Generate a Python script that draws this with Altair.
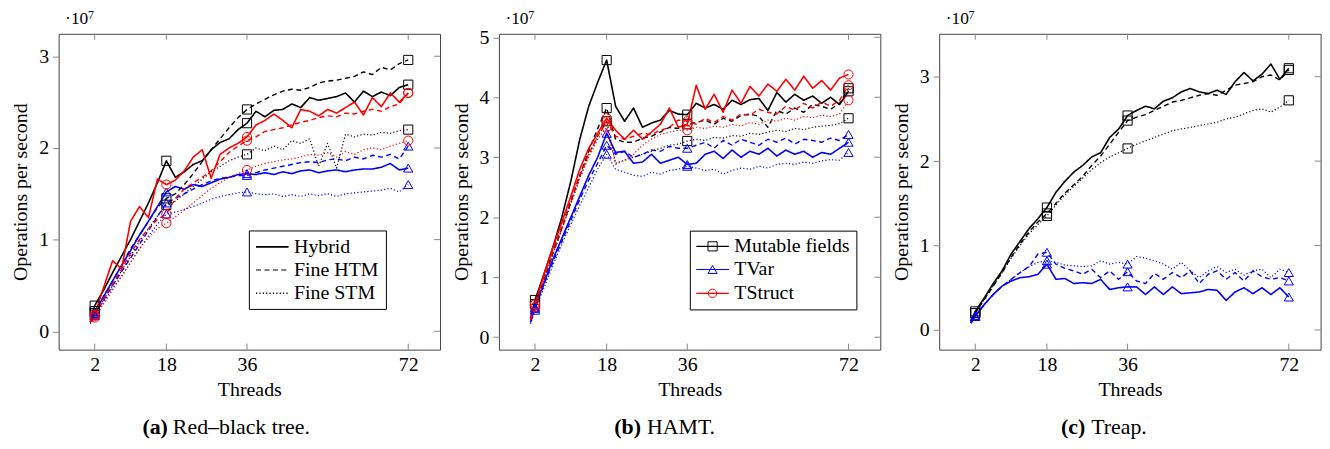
import altair as alt
import pandas as pd

# ---------------- data (values in units of 10^7 operations per second) -------------
THREADS = [1, 2, 4, 6, 8, 10, 12, 14, 16, 18, 20, 22, 24, 26, 28, 30, 32, 34, 36,
           38, 40, 42, 44, 46, 48, 50, 52, 54, 56, 58, 60, 62, 64, 66, 68, 70, 72]
MARK_THREADS = [2, 18, 36, 72]
X_TICKS = [2, 18, 36, 72]
STRUCTURES = ["Mutable fields", "TVar", "TStruct"]
VARIANTS = ["Hybrid", "Fine HTM", "Fine STM"]

# (a) Red-black tree
RB_MF_HYBRID = [0.12, 0.28, 0.45, 0.64, 0.82, 1.0, 1.2, 1.4, 1.62, 1.86, 1.68, 1.74, 1.82, 1.86, 1.98, 2.06, 2.1, 2.2, 2.27,
                2.4, 2.34, 2.41, 2.42, 2.48, 2.44, 2.55, 2.52, 2.54, 2.56, 2.6, 2.5, 2.62, 2.56, 2.61, 2.57, 2.66, 2.69]
RB_MF_HTM = [0.1, 0.22, 0.38, 0.55, 0.72, 0.9, 1.05, 1.2, 1.35, 1.45, 1.5, 1.6, 1.72, 1.85, 1.98, 2.1, 2.22, 2.33, 2.42,
             2.48, 2.53, 2.58, 2.62, 2.64, 2.63, 2.66, 2.71, 2.73, 2.74, 2.76, 2.78, 2.83, 2.8, 2.88, 2.85, 2.92, 2.96]
RB_MF_STM = [0.1, 0.2, 0.35, 0.5, 0.66, 0.82, 0.98, 1.12, 1.26, 1.38, 1.42, 1.5, 1.58, 1.66, 1.74, 1.8, 1.86, 1.9, 1.93,
             2.0, 1.97, 2.02, 1.98, 2.08, 2.05, 2.1, 1.8, 2.05, 1.78, 2.15, 2.12, 2.15, 2.14, 2.17, 2.16, 2.19, 2.2]
RB_TV_HYBRID = [0.1, 0.2, 0.38, 0.55, 0.72, 0.88, 1.05, 1.2, 1.36, 1.52, 1.58, 1.55, 1.6, 1.58, 1.62, 1.66, 1.68, 1.71, 1.72,
                1.71, 1.73, 1.71, 1.74, 1.72, 1.75, 1.76, 1.73, 1.75, 1.76, 1.74, 1.76, 1.77, 1.77, 1.79, 1.83, 1.76, 1.78]
RB_TV_HTM = [0.1, 0.18, 0.34, 0.5, 0.65, 0.8, 0.95, 1.1, 1.25, 1.4, 1.45, 1.5, 1.55, 1.6, 1.64, 1.67, 1.68, 1.7, 1.7,
             1.73, 1.76, 1.78, 1.8, 1.82, 1.84, 1.85, 1.84, 1.87, 1.88, 1.86, 1.9, 1.88, 1.92, 1.9, 1.93, 1.88, 2.02]
RB_TV_STM = [0.08, 0.17, 0.32, 0.47, 0.6, 0.75, 0.9, 1.04, 1.17, 1.28, 1.3, 1.33, 1.36, 1.4, 1.44, 1.47, 1.49, 1.51, 1.52,
             1.5, 1.49, 1.5, 1.47, 1.49, 1.47, 1.5, 1.48, 1.5, 1.47, 1.5, 1.51, 1.52, 1.53, 1.54, 1.56, 1.52, 1.6]
RB_TS_HYBRID = [0.1, 0.18, 0.48, 0.77, 0.68, 1.2, 1.36, 1.24, 1.66, 1.6, 1.65, 1.75, 1.9, 1.98, 1.67, 1.93, 2.0, 2.05, 2.12,
                2.25, 2.3, 2.37, 2.3, 2.22, 2.42, 2.4, 2.35, 2.42, 2.38, 2.44, 2.5, 2.36, 2.55, 2.45, 2.6, 2.5, 2.6]
RB_TS_HTM = [0.1, 0.17, 0.35, 0.52, 0.68, 0.85, 1.0, 1.12, 1.22, 1.28, 1.45, 1.55, 1.62, 1.68, 1.75, 1.85, 1.95, 2.02, 2.08,
             2.12, 2.18, 2.2, 2.22, 2.25, 2.28, 2.3, 2.33, 2.35, 2.34, 2.38, 2.37, 2.4, 2.42, 2.4, 2.45, 2.48, 2.6]
RB_TS_STM = [0.08, 0.15, 0.3, 0.45, 0.6, 0.75, 0.9, 1.02, 1.12, 1.18, 1.25, 1.32, 1.4, 1.48, 1.56, 1.62, 1.68, 1.72, 1.76,
             1.8, 1.83, 1.85, 1.87, 1.88, 1.9, 1.93, 1.92, 1.95, 1.9, 1.96, 1.93, 1.98, 2.0, 1.98, 2.02, 2.05, 2.08]

# (b) HAMT
HM_MF_HYBRID = [0.3, 0.62, 1.05, 1.5, 2.0, 2.6, 3.3, 3.85, 4.25, 4.62, 3.85, 3.6, 3.82, 3.5, 3.57, 3.62, 3.78, 3.72, 3.71,
                3.9, 3.82, 3.88, 3.8, 3.95, 3.88, 3.96, 3.98, 3.78, 4.08, 3.92, 4.05, 3.95, 4.02, 3.9, 4.0, 3.88, 4.1]
HM_MF_HTM = [0.28, 0.55, 0.95, 1.4, 1.82, 2.25, 2.7, 3.1, 3.48, 3.82, 3.3, 3.25, 3.25, 3.32, 3.35, 3.42, 3.5, 3.48, 3.55,
             3.58, 3.62, 3.55, 3.65, 3.6, 3.7, 3.72, 3.68, 3.5, 3.78, 3.72, 3.82, 3.75, 3.88, 3.85, 3.8, 3.9, 4.15]
HM_MF_STM = [0.28, 0.55, 0.95, 1.38, 1.8, 2.22, 2.65, 3.05, 3.35, 3.6, 2.9, 2.95, 3.0, 3.05, 3.1, 3.15, 3.2, 3.22, 3.27,
             3.3, 3.28, 3.33, 3.32, 3.36, 3.35, 3.4, 3.38, 3.42, 3.45, 3.43, 3.48, 3.46, 3.5, 3.52, 3.53, 3.56, 3.65]
HM_TV_HYBRID = [0.25, 0.5, 0.9, 1.3, 1.65, 2.0, 2.35, 2.7, 3.0, 3.4, 3.08, 3.1, 2.9, 2.92, 3.05, 2.9, 2.95, 3.0, 2.88,
                2.9, 3.05, 3.1, 2.98, 3.12, 3.0, 3.1, 3.05, 3.15, 3.02, 3.12, 3.05, 3.1, 3.0, 3.08, 3.05, 3.15, 3.25]
HM_TV_HTM = [0.25, 0.48, 0.88, 1.25, 1.6, 1.95, 2.3, 2.62, 2.9, 3.2, 3.05, 3.1, 3.0, 3.05, 3.12, 3.1, 3.18, 3.15, 3.15,
             3.2, 3.25, 3.15, 3.28, 3.2, 3.3, 3.25, 3.2, 3.3, 3.25, 3.32, 3.22, 3.3, 3.28, 3.25, 3.32, 3.28, 3.38]
HM_TV_STM = [0.22, 0.45, 0.82, 1.2, 1.55, 1.88, 2.2, 2.5, 2.8, 3.05, 2.8, 2.75, 2.7, 2.68, 2.75, 2.72, 2.78, 2.8, 2.85,
             2.82, 2.78, 2.8, 2.72, 2.78, 2.82, 2.8, 2.85, 2.82, 2.88, 2.9, 2.88, 2.92, 2.9, 2.94, 2.96, 2.95, 3.08]
HM_TS_HYBRID = [0.3, 0.55, 1.05, 1.5, 1.92, 2.35, 2.8, 3.15, 3.4, 3.65, 3.45, 3.3, 3.45, 3.3, 3.42, 3.55, 3.82, 3.5, 3.55,
                4.2, 3.8, 4.05, 3.75, 4.12, 3.9, 4.18, 4.02, 4.22, 4.1, 4.3, 4.12, 4.35, 4.15, 4.28, 4.12, 4.32, 4.38]
HM_TS_HTM = [0.3, 0.55, 1.0, 1.45, 1.85, 2.3, 2.7, 3.05, 3.35, 3.6, 3.35, 3.3, 3.35, 3.4, 3.38, 3.45, 3.5, 3.62, 3.6,
             3.55, 3.65, 3.58, 3.68, 3.62, 3.72, 3.7, 3.8, 3.75, 3.72, 3.85, 3.78, 3.9, 3.82, 3.92, 3.85, 3.95, 4.2]
HM_TS_STM = [0.28, 0.5, 0.95, 1.4, 1.8, 2.25, 2.65, 3.0, 3.3, 3.5, 2.88, 2.95, 3.05, 3.2, 3.3, 3.38, 3.42, 3.45, 3.45,
             3.5, 3.48, 3.52, 3.5, 3.55, 3.52, 3.58, 3.55, 3.62, 3.6, 3.65, 3.62, 3.68, 3.66, 3.7, 3.68, 3.72, 3.95]

# (c) Treap
TR_MF_HYBRID = [0.1, 0.22, 0.38, 0.55, 0.7, 0.9, 1.05, 1.2, 1.32, 1.45, 1.63, 1.76, 1.87, 1.95, 2.05, 2.1, 2.28, 2.38, 2.54,
                2.6, 2.65, 2.62, 2.71, 2.75, 2.82, 2.86, 2.82, 2.8, 2.84, 2.79, 2.94, 3.05, 2.95, 3.03, 3.15, 2.97, 3.1]
TR_MF_HTM = [0.1, 0.2, 0.36, 0.52, 0.68, 0.86, 1.02, 1.16, 1.28, 1.38, 1.5, 1.62, 1.72, 1.82, 1.95, 2.06, 2.2, 2.34, 2.48,
             2.52, 2.55, 2.6, 2.65, 2.7, 2.72, 2.75, 2.78, 2.8, 2.78, 2.84, 2.9, 2.92, 2.94, 3.0, 3.02, 2.96, 3.08]
TR_MF_STM = [0.1, 0.2, 0.36, 0.52, 0.68, 0.85, 1.0, 1.14, 1.25, 1.35, 1.48, 1.6, 1.7, 1.8, 1.9, 1.98, 2.05, 2.1, 2.15,
             2.2, 2.24, 2.28, 2.32, 2.36, 2.38, 2.4, 2.42, 2.44, 2.46, 2.5, 2.52, 2.56, 2.6, 2.62, 2.58, 2.64, 2.72]
TR_TV_HYBRID = [0.08, 0.17, 0.3, 0.42, 0.52, 0.58, 0.62, 0.63, 0.66, 0.78, 0.6, 0.61, 0.55, 0.56, 0.55, 0.6, 0.48, 0.5, 0.51,
                0.51, 0.42, 0.51, 0.42, 0.51, 0.43, 0.44, 0.45, 0.48, 0.47, 0.35, 0.45, 0.5, 0.43, 0.5, 0.42, 0.5, 0.39]
TR_TV_HTM = [0.08, 0.16, 0.3, 0.42, 0.52, 0.6, 0.68, 0.75, 0.9, 0.92, 0.78, 0.73, 0.7, 0.66, 0.72, 0.62, 0.7, 0.6, 0.69,
             0.58, 0.55, 0.67, 0.6, 0.68, 0.62, 0.7, 0.55, 0.66, 0.7, 0.6, 0.68, 0.58, 0.7, 0.63, 0.6, 0.62, 0.58]
TR_TV_STM = [0.08, 0.16, 0.3, 0.42, 0.52, 0.6, 0.68, 0.75, 0.8, 0.82, 0.8, 0.77, 0.76, 0.75, 0.76, 0.82, 0.78, 0.8, 0.78,
             0.87, 0.85, 0.82, 0.78, 0.72, 0.8, 0.7, 0.62, 0.7, 0.75, 0.68, 0.72, 0.65, 0.7, 0.72, 0.62, 0.72, 0.68]

# ---------------- styling -------------
COLORS = ["#000000", "#0000ff", "#ff0000"]
SHAPES = ["square", "triangle-up", "circle"]
MARK_SIZES = [85, 85, 72]
DASHES = [[1, 0], [5, 3.5], [1.2, 2.2]]
WIDTHS = [1.6, 1.2, 1.5]
FONT = "Liberation Serif"
W, H = 384, 318
XDOM = [-6.05, 79.1]
TICK_COLOR = "#888888"


def long_frame(series):
    rows = []
    for (struct, variant), vals in series.items():
        for t, v in zip(THREADS, vals):
            rows.append({"threads": t, "ops": v, "structure": struct,
                         "variant": variant, "series": struct + " / " + variant})
    return pd.DataFrame(rows)


def one(label):
    return pd.DataFrame({"label": [label]})


def text_layer(label, x, y, size=20, weight="normal", align="left", baseline="alphabetic"):
    return alt.Chart(one(label)).mark_text(
        font=FONT, fontSize=size, fontWeight=weight, align=align, baseline=baseline, color="#000"
    ).encode(x=alt.value(x), y=alt.value(y), text="label:N")


def make_panel(series, ydom, yticks, cap_label, cap_text, cap_right, cap_left, legend):
    df = long_frame(series)
    color = alt.Color("structure:N", scale=alt.Scale(domain=STRUCTURES, range=COLORS), legend=None)
    xaxis = alt.Axis(values=X_TICKS, ticks=False, domain=False, grid=False, format="d",
                     labelFont=FONT, labelFontSize=20, labelColor="#000", labelPadding=5,
                     titleFont=FONT, titleFontSize=20, titleFontWeight="normal", titleColor="#000",
                     titleX=W / 2, titleY=46, titleBaseline="alphabetic")
    yaxis = alt.Axis(values=yticks, ticks=True, tickSize=6, tickColor=TICK_COLOR, tickWidth=1,
                     domain=False, grid=False, format="d",
                     labelFont=FONT, labelFontSize=20, labelColor="#000", labelPadding=4,
                     titleFont=FONT, titleFontSize=20, titleFontWeight="normal", titleColor="#000",
                     titleX=-38, titleY=H / 2, titleAngle=270, titleBaseline="middle", titleAlign="center")
    x = alt.X("threads:Q", title="Threads",
              scale=alt.Scale(domain=XDOM, nice=False, zero=False), axis=xaxis)
    y = alt.Y("ops:Q", title="Operations per second",
              scale=alt.Scale(domain=ydom, nice=False, zero=False), axis=yaxis)
    x2 = alt.X("threads:Q", title="Threads")
    y2 = alt.Y("ops:Q", title="Operations per second")

    lines = alt.Chart(df).mark_line(strokeJoin="round").encode(
        x=x, y=y, color=color,
        strokeDash=alt.StrokeDash("variant:N", scale=alt.Scale(domain=VARIANTS, range=DASHES), legend=None),
        strokeWidth=alt.StrokeWidth("variant:N", scale=alt.Scale(domain=VARIANTS, range=WIDTHS), legend=None),
        detail="series:N",
    )
    pts = alt.Chart(df).transform_filter(
        alt.FieldOneOfPredicate(field="threads", oneOf=MARK_THREADS)
    ).mark_point(filled=False, strokeWidth=1, opacity=1).encode(
        x=x2, y=y2, color=color,
        shape=alt.Shape("structure:N", scale=alt.Scale(domain=STRUCTURES, range=SHAPES), legend=None),
        size=alt.Size("structure:N", scale=alt.Scale(domain=STRUCTURES, range=MARK_SIZES), legend=None),
    )
    xt = pd.DataFrame({"threads": X_TICKS})
    yt = pd.DataFrame({"ops": yticks})
    top_ticks = alt.Chart(xt).mark_rule(color=TICK_COLOR, strokeWidth=1).encode(
        x=x2, y=alt.value(0), y2=alt.value(6))
    bot_ticks = alt.Chart(xt).mark_rule(color=TICK_COLOR, strokeWidth=1).encode(
        x=x2, y=alt.value(H - 6), y2=alt.value(H))
    right_ticks = alt.Chart(yt).mark_rule(color=TICK_COLOR, strokeWidth=1).encode(
        y=y2, x=alt.value(W - 6), x2=alt.value(W))

    layers = [lines, pts, top_ticks, bot_ticks, right_ticks]

    # legend (drawn as a framed box inside the plot)
    entries = []
    if legend == "variants":
        box = (192, 330, 198.5, 277.5)
        rows_y = [214.5, 237.8, 261.2]
        entries = [(v, "#000000", DASHES[i], WIDTHS[i], None, None) for i, v in enumerate(VARIANTS)]
    elif legend == "structures":
        box = (192.7, 360.4, 198.7, 278)
        rows_y = [214, 237.3, 261.3]
        entries = [(s, COLORS[i], [1, 0], 1.2, SHAPES[i], MARK_SIZES[i]) for i, s in enumerate(STRUCTURES)]
    if entries:
        layers.append(alt.Chart(one("box")).mark_rect(fill="white", stroke="#000", strokeWidth=1).encode(
            x=alt.value(box[0]), x2=alt.value(box[1]), y=alt.value(box[2]), y2=alt.value(box[3])))
        for (label, col, dash, sw, shape, msize), ry in zip(entries, rows_y):
            layers.append(alt.Chart(one(label)).mark_rule(color=col, strokeDash=dash, strokeWidth=sw).encode(
                x=alt.value(198.7), x2=alt.value(231.5), y=alt.value(ry)))
            if shape:
                layers.append(alt.Chart(one(label)).mark_point(
                    shape=shape, filled=False, color=col, size=msize, strokeWidth=1, opacity=1
                ).encode(x=alt.value(215.1), y=alt.value(ry)))
            layers.append(text_layer(label, 237, ry, baseline="middle"))

    # exponent marker and caption
    layers.append(text_layer("·10", 6.5, -23.6, size=17.5, baseline="top"))
    layers.append(text_layer("7", 29.5, -23.8, size=12, baseline="top"))
    layers.append(text_layer(cap_label, cap_right, 403, size=22, weight="bold", align="right"))
    layers.append(text_layer(cap_text, cap_left, 403, size=22, align="left"))

    return alt.layer(*layers).properties(width=W, height=H)


pa = make_panel({
    ("Mutable fields", "Hybrid"): RB_MF_HYBRID, ("Mutable fields", "Fine HTM"): RB_MF_HTM,
    ("Mutable fields", "Fine STM"): RB_MF_STM,
    ("TVar", "Hybrid"): RB_TV_HYBRID, ("TVar", "Fine HTM"): RB_TV_HTM, ("TVar", "Fine STM"): RB_TV_STM,
    ("TStruct", "Hybrid"): RB_TS_HYBRID, ("TStruct", "Fine HTM"): RB_TS_HTM, ("TStruct", "Fine STM"): RB_TS_STM,
}, [-0.2, 3.245], [0, 1, 2, 3], "(a)", "Red–black tree.", 110, 115, "variants")

pb = make_panel({
    ("Mutable fields", "Hybrid"): HM_MF_HYBRID, ("Mutable fields", "Fine HTM"): HM_MF_HTM,
    ("Mutable fields", "Fine STM"): HM_MF_STM,
    ("TVar", "Hybrid"): HM_TV_HYBRID, ("TVar", "Fine HTM"): HM_TV_HTM, ("TVar", "Fine STM"): HM_TV_STM,
    ("TStruct", "Hybrid"): HM_TS_HYBRID, ("TStruct", "Fine HTM"): HM_TS_HTM, ("TStruct", "Fine STM"): HM_TS_STM,
}, [-0.207, 5.058], [0, 1, 2, 3, 4, 5], "(b)", "HAMT.", 143, 149, "structures")

pc = make_panel({
    ("Mutable fields", "Hybrid"): TR_MF_HYBRID, ("Mutable fields", "Fine HTM"): TR_MF_HTM,
    ("Mutable fields", "Fine STM"): TR_MF_STM,
    ("TVar", "Hybrid"): TR_TV_HYBRID, ("TVar", "Fine HTM"): TR_TV_HTM, ("TVar", "Fine STM"): TR_TV_STM,
}, [-0.233, 3.508], [0, 1, 2, 3], "(c)", "Treap.", 147, 153, "none")

chart = alt.hconcat(pa, pb, pc, spacing=59.3).properties(
    bounds="flush",
    padding={"left": 2, "top": -1.5, "right": 0, "bottom": 0},
).configure(font=FONT).configure_axis(labelFont=FONT, titleFont=FONT).configure_text(
    font=FONT).configure_view(stroke="#444444", strokeWidth=1)

chart.save("out.html", embed_options={"renderer": "svg", "actions": False})
